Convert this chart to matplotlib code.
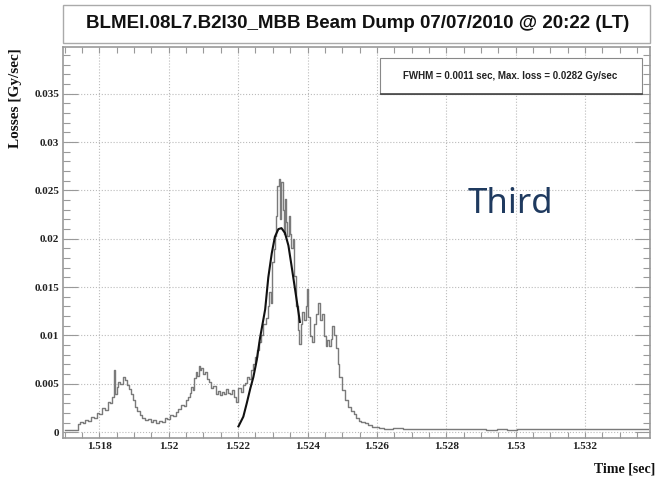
import matplotlib
matplotlib.use("Agg")
import matplotlib.pyplot as plt
from matplotlib.patches import Rectangle
from matplotlib.ticker import MultipleLocator
import numpy as np

time_s = [
    1.51700, 1.51720, 1.51736, 1.51740, 1.51748, 1.51756, 1.51764, 1.51772,
    1.51780, 1.51788, 1.51796, 1.51804, 1.51812, 1.51820, 1.51828, 1.51836,
    1.51840, 1.51844, 1.51848, 1.51852, 1.51858, 1.51864, 1.51870, 1.51876,
    1.51882, 1.51888, 1.51894, 1.51900, 1.51906, 1.51912, 1.51920, 1.51928,
    1.51936, 1.51944, 1.51952, 1.51960, 1.51968, 1.51976, 1.51984, 1.51992,
    1.52000, 1.52008, 1.52016, 1.52024, 1.52032, 1.52040, 1.52046, 1.52052,
    1.52058, 1.52062, 1.52068, 1.52072, 1.52076, 1.52080, 1.52084, 1.52088,
    1.52092, 1.52096, 1.52102, 1.52108, 1.52114, 1.52120, 1.52126, 1.52132,
    1.52138, 1.52144, 1.52150, 1.52156, 1.52162, 1.52168, 1.52174, 1.52180,
    1.52186, 1.52192, 1.52198, 1.52204, 1.52210, 1.52216, 1.52222, 1.52228,
    1.52234, 1.52240, 1.52246, 1.52252, 1.52258, 1.52264, 1.52270, 1.52276,
    1.52282, 1.52288, 1.52292, 1.52296, 1.52300, 1.52304, 1.52308, 1.52312,
    1.52315, 1.52319, 1.52323, 1.52326, 1.52330, 1.52333, 1.52336, 1.52340,
    1.52344, 1.52348, 1.52352, 1.52355, 1.52359, 1.52364, 1.52369, 1.52374,
    1.52378, 1.52383, 1.52388, 1.52393, 1.52397, 1.52400, 1.52405, 1.52409,
    1.52415, 1.52422, 1.52428, 1.52434, 1.52438, 1.52444, 1.52450, 1.52455,
    1.52460, 1.52465, 1.52470, 1.52474, 1.52479, 1.52484, 1.52489, 1.52494,
    1.52503, 1.52513, 1.52522, 1.52530, 1.52537, 1.52545, 1.52551, 1.52560,
    1.52570, 1.52580, 1.52590, 1.52600, 1.52610, 1.52630, 1.52660, 1.52690,
    1.52720, 1.52750, 1.52780, 1.52810, 1.52840, 1.52870, 1.52900, 1.52930,
    1.52960, 1.52990, 1.53020, 1.53050, 1.53080, 1.53110, 1.53140, 1.53170,
    1.53200, 1.53230, 1.53260, 1.53290, 1.53320, 1.53350, 1.53380,
]
losses = [
    0.0002, 0.0002, 0.0002, 0.0008, 0.0011, 0.0010, 0.0013, 0.0012,
    0.0016, 0.0015, 0.0020, 0.0019, 0.0025, 0.0023, 0.0031, 0.0030,
    0.0036, 0.0064, 0.0040, 0.0047, 0.0052, 0.0050, 0.0057, 0.0054,
    0.0049, 0.0045, 0.0040, 0.0033, 0.0026, 0.0022, 0.0018, 0.0015,
    0.0013, 0.0014, 0.0011, 0.0013, 0.0010, 0.0012, 0.0011, 0.0015,
    0.0014, 0.0018, 0.0017, 0.0021, 0.0024, 0.0028, 0.0027, 0.0033,
    0.0036, 0.0041, 0.0047, 0.0044, 0.0056, 0.0062, 0.0058, 0.0068,
    0.0064, 0.0066, 0.0060, 0.0062, 0.0055, 0.0052, 0.0046, 0.0048,
    0.0040, 0.0043, 0.0038, 0.0042, 0.0039, 0.0045, 0.0041, 0.0039,
    0.0044, 0.0036, 0.0031, 0.0046, 0.0042, 0.0049, 0.0051, 0.0057,
    0.0055, 0.0064, 0.0070, 0.0078, 0.0085, 0.0093, 0.0100, 0.0112,
    0.0118, 0.0130, 0.0145, 0.0134, 0.0176, 0.0189, 0.0203, 0.0224,
    0.0255, 0.0262, 0.0220, 0.0259, 0.0230, 0.0205, 0.0241, 0.0217,
    0.0203, 0.0224, 0.0205, 0.0190, 0.0200, 0.0162, 0.0130, 0.0106,
    0.0091, 0.0112, 0.0124, 0.0116, 0.0130, 0.0148, 0.0119, 0.0099,
    0.0093, 0.0112, 0.0122, 0.0134, 0.0116, 0.0122, 0.0099, 0.0089,
    0.0095, 0.0089, 0.0096, 0.0110, 0.0100, 0.0087, 0.0071, 0.0057,
    0.0044, 0.0033, 0.0026, 0.0022, 0.0019, 0.0015, 0.0012, 0.0011,
    0.0009, 0.0007, 0.00055, 0.0005, 0.0004, 0.00035, 0.0004, 0.0003,
    0.00038, 0.0003, 0.00036, 0.0003, 0.00032, 0.00028, 0.0003, 0.00027,
    0.0003, 0.00026, 0.0003, 0.00033, 0.0003, 0.00035, 0.0003, 0.00036,
    0.0003, 0.00034, 0.0003, 0.00028, 0.0003, 0.0003, 0.0003,
]

# gaussian fit curve
fit_time = [
    1.52201, 1.52215, 1.52225, 1.52235, 1.52244, 1.52254, 1.52263, 1.52278,
    1.52287, 1.52297, 1.52306, 1.52316, 1.52325, 1.52335, 1.52345, 1.52354,
    1.52364, 1.52374, 1.52378,
]
fit_loss = [
    0.0006, 0.0016, 0.0030, 0.0045, 0.0057, 0.0075, 0.0097, 0.0127,
    0.0160, 0.0185, 0.0202, 0.0210, 0.0211, 0.0206, 0.0193, 0.0172,
    0.0148, 0.0124, 0.0114,
]

title = "BLMEI.08L7.B2I30_MBB Beam Dump 07/07/2010 @ 20:22 (LT)"
fit_text = "FWHM = 0.0011 sec, Max. loss = 0.0282 Gy/sec"

fig = plt.figure(figsize=(6.56, 4.79), dpi=100)
ax = fig.add_axes([0.0965, 0.0856, 0.8944, 0.8157])

ax.plot(time_s, losses, drawstyle="steps-mid", color="#7a7a7a", lw=1.0)
ax.plot(fit_time, fit_loss, color="#111111", lw=1.5)

ax.set_xlim(1.516963, 1.53387)
ax.set_ylim(-0.0006, 0.0398)

ax.xaxis.set_major_locator(MultipleLocator(0.002))
ax.xaxis.set_minor_locator(MultipleLocator(0.0005))
ax.yaxis.set_major_locator(MultipleLocator(0.005))
ax.yaxis.set_minor_locator(MultipleLocator(0.001))
ax.xaxis.set_major_formatter(plt.FuncFormatter(lambda v, p: f"{v:.3f}".rstrip("0")))
ax.yaxis.set_major_formatter(plt.FuncFormatter(lambda v, p: "0" if abs(v) < 1e-9 else f"{v:.3f}".rstrip("0")))

ax.grid(True, which="major", color="#bbbbbb", ls=":", lw=0.8)
ax.tick_params(which="both", direction="in", top=True, right=True, colors="#999999",
               labelcolor="#222222", width=0.8)
ax.tick_params(axis="y", which="major", length=11, pad=3)
ax.tick_params(axis="y", which="minor", length=5)
ax.tick_params(axis="x", which="both", length=4.5, pad=3)
for lab in ax.get_xticklabels() + ax.get_yticklabels():
    lab.set_family("Liberation Serif")
    lab.set_weight("bold")
    lab.set_fontsize(8)
for s in ax.spines.values():
    s.set_color("#999999")
    s.set_linewidth(1.2)

fig.text(0.9985, 0.0209, "Time [sec]", ha="right", va="center",
         family="Liberation Serif", weight="bold", fontsize=10, color="#111111")
fig.text(0.023, 0.90, "Losses [Gy/sec]", ha="center", va="top", rotation=90,
         family="Liberation Serif", weight="bold", fontsize=11, color="#111111")

# title box
fig.patches.append(Rectangle((0.0956, 0.9102), 0.8954, 0.08, transform=fig.transFigure,
                             facecolor="white", edgecolor="#aaaaaa", lw=1.0))
fig.text(0.5457, 0.95, title, ha="center", va="center",
         family="Liberation Sans", weight="bold", fontsize=13.5, color="#111111")

# fit result box
ax.add_patch(Rectangle((0.579, 0.8038), 0.3997, 0.0751, transform=fig.transFigure,
                       facecolor="white", edgecolor="#888888", lw=0.8, zorder=5))
ax.plot([0.581, 0.979], [0.8032, 0.8032], transform=fig.transFigure,
        color="#444444", lw=1.2, zorder=5, clip_on=False)
fig.text(0.7774, 0.8413, fit_text, ha="center", va="center",
         family="Liberation Sans", weight="bold", fontsize=7, color="#222222", zorder=6)

fig.text(0.7134, 0.5553, "Third", ha="left", va="baseline",
         family="Noto Sans", fontsize=25, color="#1f3a5f")

fig.savefig("out.png", dpi=100)
